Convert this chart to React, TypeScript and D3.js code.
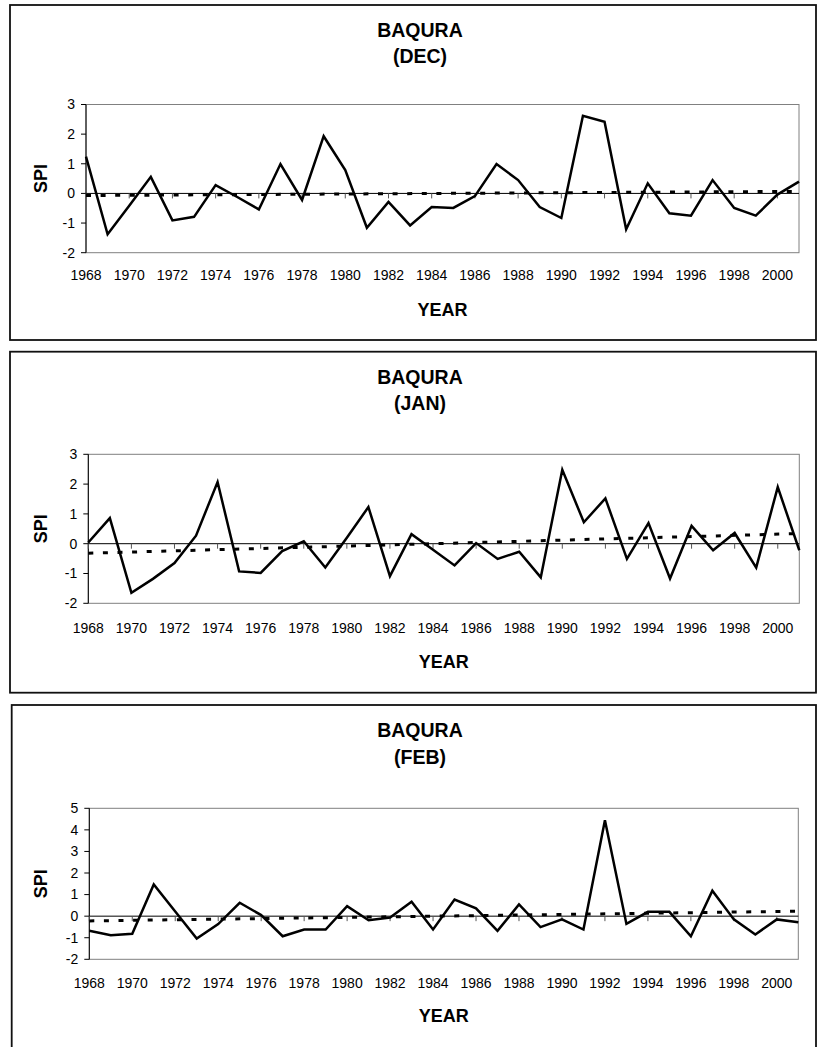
import React from "react";
import * as d3 from "d3";

// categories
const years = d3.range(1968, 2002);
const yearTicks = [1968, 1970, 1972, 1974, 1976, 1978, 1980, 1982, 1984, 1986, 1988, 1990, 1992, 1994, 1996, 1998, 2000];

// SPI values
const spiDec = [1.24, -1.38, -0.42, 0.56, -0.91, -0.79, 0.28, -0.12, -0.54, 0.99,
  -0.22, 1.93, 0.79, -1.16, -0.29, -1.08, -0.46, -0.49, -0.09, 0.99,
  0.45, -0.46, -0.83, 2.62, 2.42, -1.21, 0.34, -0.67, -0.75, 0.45,
  -0.49, -0.75, -0.04, 0.4];
const spiJan = [0.04, 0.86, -1.65, -1.18, -0.65, 0.27, 2.07, -0.93, -0.98, -0.25,
  0.08, -0.8, 0.2, 1.23, -1.09, 0.32, -0.2, -0.73, 0.02, -0.51,
  -0.27, -1.13, 2.48, 0.72, 1.52, -0.51, 0.69, -1.17, 0.6, -0.22,
  0.36, -0.8, 1.9, -0.22];
const spiFeb = [-0.68, -0.88, -0.82, 1.47, 0.22, -1.04, -0.37, 0.62, 0.05, -0.93,
  -0.62, -0.62, 0.46, -0.19, -0.06, 0.67, -0.62, 0.77, 0.36, -0.68,
  0.54, -0.51, -0.15, -0.62, 4.45, -0.36, 0.2, 0.2, -0.93, 1.18,
  -0.15, -0.85, -0.15, -0.28];

// linear trend line, value at 1968 and at 2001
const trendYears = [1968, 2001];
const trendDec = [-0.07, 0.07];
const trendJan = [-0.32, 0.34];
const trendFeb = [-0.22, 0.23];

const spiTicks = [-2, -1, 0, 1, 2, 3];
const spiTicksFeb = [-2, -1, 0, 1, 2, 3, 4, 5];

const font = "'Liberation Sans', Arial, sans-serif";

const panels = [
  {
    month: "(DEC)", values: spiDec, trend: trendDec, ticks: spiTicks,
    frame: { x: 10, y: 5, w: 806, h: 335 },
    plot: { l: 86, r: 799, t: 104.5, b: 252.7 },
    titleY: [30, 56], labelY: 275, yearY: 309.5,
  },
  {
    month: "(JAN)", values: spiJan, trend: trendJan, ticks: spiTicks,
    frame: { x: 10, y: 351.7, w: 806, h: 341 },
    plot: { l: 88.3, r: 799.3, t: 454.3, b: 603.3 },
    titleY: [376.7, 402.7], labelY: 628.3, yearY: 661.7,
  },
  {
    month: "(FEB)", values: spiFeb, trend: trendFeb, ticks: spiTicksFeb,
    frame: { x: 11.7, y: 705, w: 804.3, h: 400 },
    plot: { l: 89.3, r: 798.3, t: 808.3, b: 959.3 },
    titleY: [730, 756.7], labelY: 983.3, yearY: 1016,
  },
];

function Panel({ p }) {
  const x = d3.scaleLinear().domain([1968, 2001]).range([p.plot.l, p.plot.r]);
  const y = d3
    .scaleLinear()
    .domain([p.ticks[0], p.ticks[p.ticks.length - 1]])
    .range([p.plot.b, p.plot.t]);
  const line = d3
    .line<number>()
    .x((d, i) => x(years[i]))
    .y((d) => y(d));
  const trendLine = d3
    .line<number>()
    .x((d, i) => x(trendYears[i]))
    .y((d) => y(d));
  const cx = (p.plot.l + p.plot.r) / 2;
  const cy = (p.plot.t + p.plot.b) / 2;

  return (
    <g fontFamily={font}>
      <rect x={p.frame.x} y={p.frame.y} width={p.frame.w} height={p.frame.h}
        fill="white" stroke="#111" strokeWidth={1.8} />
      <text x={420} y={p.titleY[0]} dy="0.35em" textAnchor="middle" fontWeight="bold" fontSize={19.5}>BAQURA</text>
      <text x={420} y={p.titleY[1]} dy="0.35em" textAnchor="middle" fontWeight="bold" fontSize={19.5}>{p.month}</text>

      {/* plot area */}
      <rect x={p.plot.l} y={p.plot.t} width={p.plot.r - p.plot.l} height={p.plot.b - p.plot.t}
        fill="none" stroke="#808080" strokeWidth={1} />
      <line x1={p.plot.l} x2={p.plot.l} y1={p.plot.t} y2={p.plot.b} stroke="#000" strokeWidth={1} />

      {/* y axis ticks */}
      {p.ticks.map((t) => (
        <g key={t}>
          <line x1={p.plot.l - 5} x2={p.plot.l} y1={y(t)} y2={y(t)} stroke="#000" strokeWidth={1} />
          <text x={p.plot.l - 11} y={y(t)} dy="0.35em" textAnchor="end" fontSize={14}>{t}</text>
        </g>
      ))}

      {/* x axis at zero */}
      <line x1={p.plot.l} x2={p.plot.r} y1={y(0)} y2={y(0)} stroke="#000" strokeWidth={1} />
      {yearTicks.map((t) => (
        <g key={t}>
          <line x1={x(t)} x2={x(t)} y1={y(0)} y2={y(0) + 5} stroke="#555" strokeWidth={1} />
          <text x={x(t)} y={p.labelY} dy="0.35em" textAnchor="middle" fontSize={14}>{t}</text>
        </g>
      ))}

      <path d={line(p.values)} fill="none" stroke="#000" strokeWidth={2.5} strokeLinejoin="miter" />
      <path d={trendLine(p.trend)} fill="none" stroke="#000" strokeWidth={3} strokeDasharray="5 9.6" />

      <text x={cx} y={p.yearY} dy="0.35em" textAnchor="middle" fontWeight="bold" fontSize={18}>YEAR</text>
      <text transform={`translate(41,${cy}) rotate(-90)`} dy="0.35em" textAnchor="middle"
        fontWeight="bold" fontSize={18}>SPI</text>
    </g>
  );
}

export default function App() {
  return (
    <svg width={818} height={1047} style={{ position: "absolute", left: 0, top: 0, background: "white" }}>
      {panels.map((p) => (
        <Panel key={p.month} p={p} />
      ))}
    </svg>
  );
}
